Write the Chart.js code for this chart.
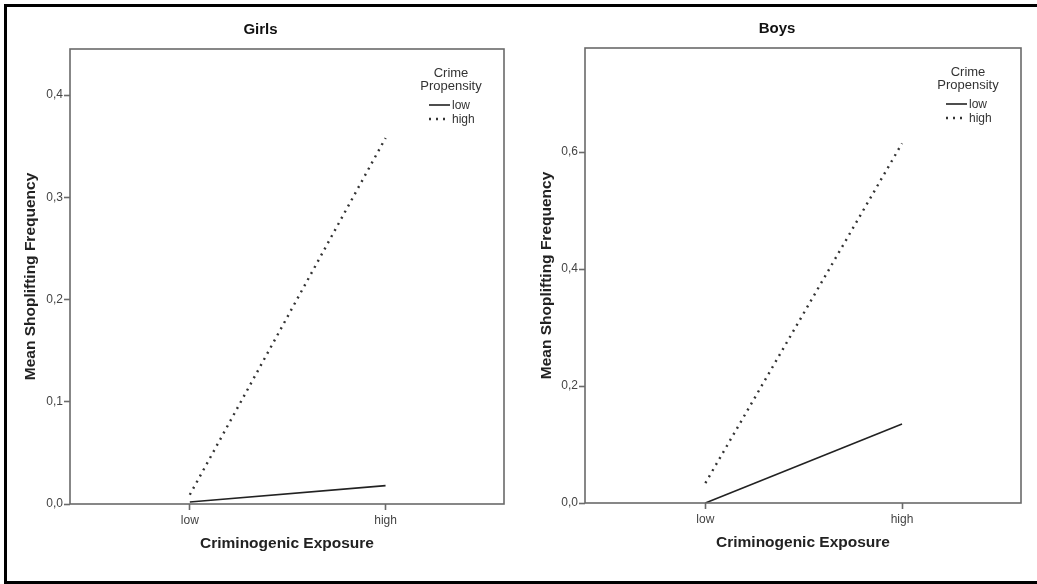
<!DOCTYPE html>
<html>
<head>
<meta charset="utf-8">
<script src="https://cdn.jsdelivr.net/npm/chart.js@4.4.1/dist/chart.umd.min.js"></script>
<style>
    html, body { margin: 0; padding: 0; background: #fff; }
    #wrap { position: relative; width: 1037px; height: 584px; overflow: hidden; }
    #frame {
        position: absolute; left: 4px; top: 4px; width: 1060px; height: 574px;
        border-top: 3px solid #000; border-left: 3px solid #000; border-bottom: 3px solid #000;
    }
    canvas { position: absolute; top: 0; }
</style>
</head>
<body>
<div id="wrap">
    <div id="frame"></div>
    <canvas id="girls" width="520" height="584" style="left:0;width:520px;height:584px"></canvas>
    <canvas id="boys" width="517" height="584" style="left:520px;width:517px;height:584px"></canvas>
</div>
<script>
const exposureLevels = ['low', 'high'];
const propensityLevels = ['low', 'high'];

const girlsLowPropensity = [0.002, 0.018];
const girlsHighPropensity = [0.009, 0.358];
const boysLowPropensity = [0.0, 0.135];
const boysHighPropensity = [0.034, 0.615];

const girlsTicks = [0, 0.1, 0.2, 0.3, 0.4];
const boysTicks = [0, 0.2, 0.4, 0.6];

const FONT = "'Liberation Sans', Arial, sans-serif";
const frameColor = '#6a6a6a';

function toPoints(values) {
    return values.map((v, i) => ({ x: i, y: v }));
}

// frame around the plot + the in-plot legend block
const panelDecor = {
    id: 'panelDecor',
    afterDraw(chart) {
        const { ctx, chartArea: a } = chart;
        ctx.save();
        ctx.strokeStyle = frameColor;
        ctx.lineWidth = 1.6;
        ctx.strokeRect(a.left, a.top, a.right - a.left, a.bottom - a.top);

        const cx = a.right - 53;
        ctx.fillStyle = '#333';
        ctx.font = '13px ' + FONT;
        ctx.textAlign = 'center';
        ctx.textBaseline = 'middle';
        ctx.fillText('Crime', cx, a.top + 24);
        ctx.fillText('Propensity', cx, a.top + 37);

        ctx.font = '12px ' + FONT;
        ctx.textAlign = 'left';
        chart.data.datasets.forEach((ds, i) => {
            const y = a.top + 56 + i * 14;
            ctx.strokeStyle = ds.borderColor;
            ctx.lineWidth = ds.borderWidth;
            ctx.setLineDash(ds.borderDash || []);
            ctx.beginPath();
            ctx.moveTo(a.right - 75, y);
            ctx.lineTo(a.right - 54, y);
            ctx.stroke();
            ctx.setLineDash([]);
            ctx.fillText(ds.label, a.right - 52, y + 1);
        });
        ctx.restore();
    }
};

function makePanel(canvasId, title, lowVals, highVals, yMax, yStep, pad) {
    return new Chart(document.getElementById(canvasId), {
        type: 'line',
        data: {
            datasets: [
                {
                    label: propensityLevels[0],
                    data: toPoints(lowVals),
                    borderColor: '#222',
                    borderWidth: 1.6,
                    pointRadius: 0,
                    fill: false
                },
                {
                    label: propensityLevels[1],
                    data: toPoints(highVals),
                    borderColor: '#333',
                    borderWidth: 2.4,
                    borderDash: [2, 5],
                    pointRadius: 0,
                    fill: false
                }
            ]
        },
        options: {
            responsive: false,
            animation: false,
            layout: { padding: pad.layout },
            plugins: {
                legend: { display: false },
                tooltip: { enabled: false },
                title: {
                    display: true,
                    text: title,
                    color: '#111',
                    font: { family: FONT, size: 15, weight: 'bold' },
                    padding: { top: pad.titleTop, bottom: 10 }
                }
            },
            scales: {
                x: {
                    type: 'linear',
                    min: -0.612,
                    max: 1.605,
                    afterBuildTicks: (scale) => {
                        scale.ticks = exposureLevels.map((_, i) => ({ value: i }));
                    },
                    afterFit: (scale) => { scale.height = 53; },
                    ticks: {
                        color: '#444',
                        font: { family: FONT, size: 12 },
                        padding: 3,
                        callback: (v) => exposureLevels[v]
                    },
                    grid: {
                        drawOnChartArea: false,
                        drawTicks: true,
                        tickLength: 6,
                        tickColor: frameColor,
                        tickWidth: 1.6
                    },
                    border: { display: false },
                    title: {
                        display: true,
                        text: 'Criminogenic Exposure',
                        color: '#222',
                        font: { family: FONT, size: 15.5, weight: 'bold' },
                        padding: { top: 4, bottom: 4 }
                    }
                },
                y: {
                    min: 0,
                    max: yMax,
                    afterBuildTicks: (scale) => {
                        scale.ticks = yStep.map(v => ({ value: v }));
                    },
                    afterFit: (scale) => { scale.width = pad.yWidth; },
                    ticks: {
                        color: '#444',
                        font: { family: FONT, size: 12 },
                        padding: 1,
                        callback: (v) => v.toFixed(1).replace('.', ',')
                    },
                    grid: {
                        drawOnChartArea: false,
                        drawTicks: true,
                        tickLength: 6,
                        tickColor: frameColor,
                        tickWidth: 1.6
                    },
                    border: { display: false },
                    title: {
                        display: true,
                        text: 'Mean Shoplifting Frequency',
                        color: '#222',
                        font: { family: FONT, size: 15.5, weight: 'bold' },
                        padding: { top: 4, bottom: 4 }
                    }
                }
            }
        },
        plugins: [panelDecor]
    });
}

makePanel('girls', 'Girls', girlsLowPropensity, girlsHighPropensity, 0.445, girlsTicks, {
    layout: { left: 17, right: 16, top: 0, bottom: 27 },
    yWidth: 53,
    titleTop: 21
});

makePanel('boys', 'Boys', boysLowPropensity, boysHighPropensity, 0.778, boysTicks, {
    layout: { left: 13, right: 16, top: 0, bottom: 28 },
    yWidth: 52,
    titleTop: 20
});
</script>
</body>
</html>
